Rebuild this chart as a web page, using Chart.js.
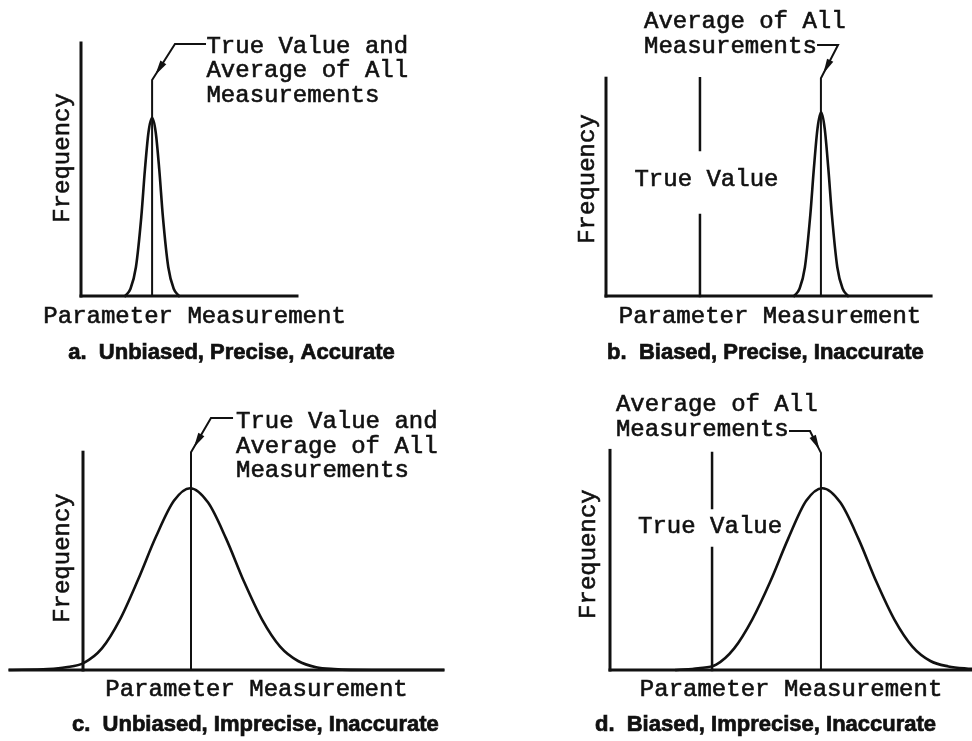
<!DOCTYPE html>
<html>
<head>
<meta charset="utf-8">
<script src="https://cdn.jsdelivr.net/npm/chart.js@4"></script>
<style>
  html, body { margin: 0; padding: 0; background: #fff; }
  #page { position: relative; width: 972px; height: 741px; overflow: hidden; }
  #page canvas { position: absolute; }
</style>
</head>
<body>
<div id="page">
  <canvas id="panel-a"></canvas>
  <canvas id="panel-b"></canvas>
  <canvas id="panel-c"></canvas>
  <canvas id="panel-d"></canvas>
</div>
<script>
// Frequency distributions of measurements — four cases (read off the figure)
// x = parameter measurement (arbitrary units, 0 at the frequency axis)
// y = frequency (arbitrary units, 0 at the measurement axis)

// ---- a. Unbiased, Precise, Accurate ----
const A_CURVE_X = [2.45, 2.75, 3.05, 3.35, 3.55, 3.75, 3.95, 4.15, 4.35, 4.55, 4.85, 5.15, 5.45];
const A_CURVE_Y = [0, 0.4, 1.6, 4.4, 7.0, 9.1, 9.9, 9.1, 7.0, 4.4, 1.6, 0.4, 0];
const A_MEAN = 3.95;          // true value = average
const A_MEAN_TOP = 12.0;
const A_LEADER_X = [5.22, 6.89];
const A_LEADER_Y = [14.0, 14.0];
const A_AXIS_X = [0, 12.0];
const A_AXIS_TOP = 14.06;

// ---- b. Biased, Precise, Inaccurate ----
const B_CURVE_X = [10.45, 10.75, 11.05, 11.35, 11.55, 11.75, 11.95, 12.15, 12.35, 12.55, 12.85, 13.15, 13.45];
const B_CURVE_Y = [0, 0.4, 1.6, 4.5, 7.1, 9.3, 10.2, 9.3, 7.1, 4.5, 1.6, 0.4, 0];
const B_MEAN = 11.94;
const B_MEAN_TOP = 12.1;
const B_LEADER_X = [12.89, 11.78];
const B_LEADER_Y = [13.94, 13.94];
const B_TRUE = 5.22;
const B_TRUE_Y = [0, 4.5, 8.11, 12.1];  // line with a gap for the label
const B_AXIS_X = [0, 18.06];
const B_AXIS_TOP = 12.1;

// ---- c. Unbiased, Imprecise, Inaccurate ----
const C_CURVE_X = [-4.05, -1.95, -0.95, 0.05, 1.05, 2.05, 3.05, 4.05, 5.05, 5.95, 6.95, 7.95, 8.95, 9.95, 10.95, 11.95, 12.95, 13.95, 16.05, 20.0];
const C_CURVE_Y = [0, 0.05, 0.15, 0.4, 1.2, 2.8, 5.0, 7.4, 9.4, 10.1, 9.3, 7.3, 4.9, 2.8, 1.3, 0.5, 0.15, 0.05, 0, 0];
const C_MEAN = 6.0;
const C_MEAN_TOP = 12.1;
const C_LEADER_X = [7.11, 8.28];
const C_LEADER_Y = [14.0, 14.0];
const C_AXIS_X = [-4.06, 20.0];
const C_AXIS_TOP = 12.1;

// ---- d. Biased, Imprecise, Inaccurate ----
const D_CURVE_X = [3.7, 4.9, 5.9, 6.9, 7.9, 8.9, 9.9, 10.9, 11.8, 12.8, 13.8, 14.8, 15.8, 16.8, 17.8, 18.8, 19.8, 20.2];
const D_CURVE_Y = [0, 0.1, 0.3, 1.2, 2.8, 4.9, 7.3, 9.4, 10.1, 9.3, 7.3, 4.9, 2.8, 1.3, 0.5, 0.2, 0.08, 0.06];
const D_MEAN = 11.72;
const D_MEAN_TOP = 12.06;
const D_LEADER_X = [11.11, 10.0];
const D_LEADER_Y = [13.28, 13.28];
const D_TRUE = 5.67;
const D_TRUE_Y = [0, 6.78, 9.0, 12.06];
const D_AXIS_X = [0, 20.2];
const D_AXIS_TOP = 12.2;

// ---- Texts ----
const Y_TITLE = "Frequency";
const X_TITLE = "Parameter Measurement";
const LABEL_BOTH = ["True Value and", "Average of All", "Measurements"];
const LABEL_AVG = ["Average of All", "Measurements"];
const LABEL_TRUE = "True Value";
const CAPTIONS = [
    "a.  Unbiased, Precise, Accurate",
    "b.  Biased, Precise, Inaccurate",
    "c.  Unbiased, Imprecise, Inaccurate",
    "d.  Biased, Imprecise, Inaccurate"
];

// ---- Layout / style ----
const PX_PER_UNIT = 18;
const MONO = { font: "24px 'Liberation Mono', 'DejaVu Sans Mono', monospace", stroke: 0.6 };
const CAPTION = { font: "bold 22px 'Liberation Sans Narrow', 'Liberation Sans', Arial, sans-serif", stroke: 0.7 };
const LINE_GAP = 1.36;   // text line spacing in frequency units
const INK = "#111";

// turns two parallel arrays into Chart.js points
function pts(xs, ys) {
    return xs.map((x, i) => ({ x: x, y: ys[i] }));
}

// ---- dataset builders ----
function axesSets(axisX, axisTop) {
    return [
        { data: pts([0, 0], [0, axisTop]), borderWidth: 3 },
        { data: pts(axisX, [0, 0]), borderWidth: 3 }
    ];
}

function curveSet(xs, ys) {
    return { data: pts(xs, ys), borderWidth: 2.6, cubicInterpolationMode: "monotone" };
}

function meanSet(mean, top, leaderX, leaderY) {
    return {
        data: pts([mean, mean].concat(leaderX), [0, top].concat(leaderY)),
        borderWidth: 2,
        arrow: true
    };
}

function trueSet(x, ys) {
    // null point breaks the line where the label sits
    return {
        data: [{ x: x, y: ys[0] }, { x: x, y: ys[1] }, { x: x, y: null }, { x: x, y: ys[2] }, { x: x, y: ys[3] }],
        borderWidth: 2.5,
        spanGaps: false
    };
}

// ---- plugin: arrowheads on the leader lines + all texts ----
const decorPlugin = {
    id: "decor",
    afterDatasetsDraw(chart) {
        const ctx = chart.ctx;
        const xs = chart.scales.x, ys = chart.scales.y;
        ctx.save();
        ctx.fillStyle = INK;
        ctx.strokeStyle = INK;

        // arrowhead: tip near the bend, pointing down along the slanted leader
        chart.data.datasets.forEach((ds, i) => {
            if (!ds.arrow) return;
            const pts = chart.getDatasetMeta(i).data;
            const p1 = pts[1], p2 = pts[2];
            const dx = p2.x - p1.x, dy = p2.y - p1.y;
            const len = Math.hypot(dx, dy);
            const ux = dx / len, uy = dy / len;
            const tipX = p1.x + ux * len * 0.14, tipY = p1.y + uy * len * 0.14;
            const bx = tipX + ux * 15, by = tipY + uy * 15;
            ctx.beginPath();
            ctx.moveTo(tipX, tipY);
            ctx.lineTo(bx - uy * 3.5, by + ux * 3.5);
            ctx.lineTo(bx + uy * 3.5, by - ux * 3.5);
            ctx.closePath();
            ctx.fill();
        });

        // texts anchored in data units
        const items = chart.options.plugins.decor.texts || [];
        items.forEach((t) => {
            const px = xs.getPixelForValue(t.x);
            const lines = Array.isArray(t.text) ? t.text : [t.text];
            ctx.font = t.style.font;
            ctx.lineWidth = t.style.stroke;
            ctx.textAlign = t.align || "center";
            ctx.textBaseline = "middle";
            lines.forEach((line, k) => {
                const py = ys.getPixelForValue(t.y - k * LINE_GAP);
                ctx.save();
                ctx.translate(px, py);
                if (t.rotate) ctx.rotate(-Math.PI / 2);
                ctx.fillText(line, 0, 0);
                ctx.strokeText(line, 0, 0);   // a bit heavier, like the typed original
                ctx.restore();
            });
        });
        ctx.restore();
    }
};

// ---- build one panel chart ----
function makePanel(id, box, datasets, texts) {
    const canvas = document.getElementById(id);
    canvas.width = box.w;
    canvas.height = box.h;
    canvas.style.left = box.left + "px";
    canvas.style.top = box.top + "px";
    canvas.style.width = box.w + "px";
    canvas.style.height = box.h + "px";

    datasets.forEach((ds) => {
        ds.borderColor = INK;
        ds.pointRadius = 0;
        ds.showLine = true;
        ds.clip = false;
        ds.borderCapStyle = "square";
        ds.borderJoinStyle = "miter";
        ds.tension = ds.cubicInterpolationMode ? 0.4 : 0;
    });

    return new Chart(canvas.getContext("2d"), {
        type: "scatter",
        data: { datasets },
        options: {
            responsive: false,
            animation: false,
            events: [],
            layout: { padding: 0 },
            plugins: {
                legend: { display: false },
                tooltip: { enabled: false },
                decor: { texts }
            },
            scales: {
                x: {
                    type: "linear", display: false,
                    min: -box.ox / PX_PER_UNIT,
                    max: (box.w - box.ox) / PX_PER_UNIT
                },
                y: {
                    type: "linear", display: false,
                    min: -(box.h - box.oy) / PX_PER_UNIT,
                    max: box.oy / PX_PER_UNIT
                }
            }
        },
        plugins: [decorPlugin]
    });
}

// panel boxes: canvas placement and the pixel where the two axes meet
const BOX_A = { left: 0,   top: 0,   w: 486, h: 370, ox: 81,  oy: 296 };
const BOX_B = { left: 486, top: 0,   w: 486, h: 370, ox: 120, oy: 296 };
const BOX_C = { left: 0,   top: 370, w: 486, h: 371, ox: 83,  oy: 300 };
const BOX_D = { left: 486, top: 370, w: 486, h: 371, ox: 124, oy: 300 };

makePanel("panel-a", BOX_A,
    axesSets(A_AXIS_X, A_AXIS_TOP).concat([
        curveSet(A_CURVE_X, A_CURVE_Y),
        meanSet(A_MEAN, A_MEAN_TOP, A_LEADER_X, A_LEADER_Y)
    ]),
    [
        { text: Y_TITLE, x: -1.0, y: 7.67, rotate: true, style: MONO },
        { text: X_TITLE, x: 6.31, y: -1.17, style: MONO },
        { text: LABEL_BOTH, x: 6.97, y: 13.86, align: "left", style: MONO },
        { text: CAPTIONS[0], x: 8.36, y: -3.17, style: CAPTION }
    ]);

makePanel("panel-b", BOX_B,
    axesSets(B_AXIS_X, B_AXIS_TOP).concat([
        curveSet(B_CURVE_X, B_CURVE_Y),
        meanSet(B_MEAN, B_MEAN_TOP, B_LEADER_X, B_LEADER_Y),
        trueSet(B_TRUE, B_TRUE_Y)
    ]),
    [
        { text: Y_TITLE, x: -1.0, y: 6.5, rotate: true, style: MONO },
        { text: X_TITLE, x: 9.11, y: -1.17, style: MONO },
        { text: LABEL_AVG, x: 2.11, y: 15.22, align: "left", style: MONO },
        { text: LABEL_TRUE, x: 5.58, y: 6.44, style: MONO },
        { text: CAPTIONS[1], x: 8.86, y: -3.17, style: CAPTION }
    ]);

makePanel("panel-c", BOX_C,
    axesSets(C_AXIS_X, C_AXIS_TOP).concat([
        curveSet(C_CURVE_X, C_CURVE_Y),
        meanSet(C_MEAN, C_MEAN_TOP, C_LEADER_X, C_LEADER_Y)
    ]),
    [
        { text: Y_TITLE, x: -1.11, y: 6.22, rotate: true, style: MONO },
        { text: X_TITLE, x: 9.64, y: -1.11, style: MONO },
        { text: LABEL_BOTH, x: 8.5, y: 13.78, align: "left", style: MONO },
        { text: CAPTIONS[2], x: 9.58, y: -3.06, style: CAPTION }
    ]);

makePanel("panel-d", BOX_D,
    axesSets(D_AXIS_X, D_AXIS_TOP).concat([
        curveSet(D_CURVE_X, D_CURVE_Y),
        meanSet(D_MEAN, D_MEAN_TOP, D_LEADER_X, D_LEADER_Y),
        trueSet(D_TRUE, D_TRUE_Y)
    ]),
    [
        { text: Y_TITLE, x: -1.17, y: 6.44, rotate: true, style: MONO },
        { text: X_TITLE, x: 10.06, y: -1.11, style: MONO },
        { text: LABEL_AVG, x: 0.33, y: 14.72, align: "left", style: MONO },
        { text: LABEL_TRUE, x: 5.56, y: 7.94, style: MONO },
        { text: CAPTIONS[3], x: 8.64, y: -3.06, style: CAPTION }
    ]);
</script>
</body>
</html>
